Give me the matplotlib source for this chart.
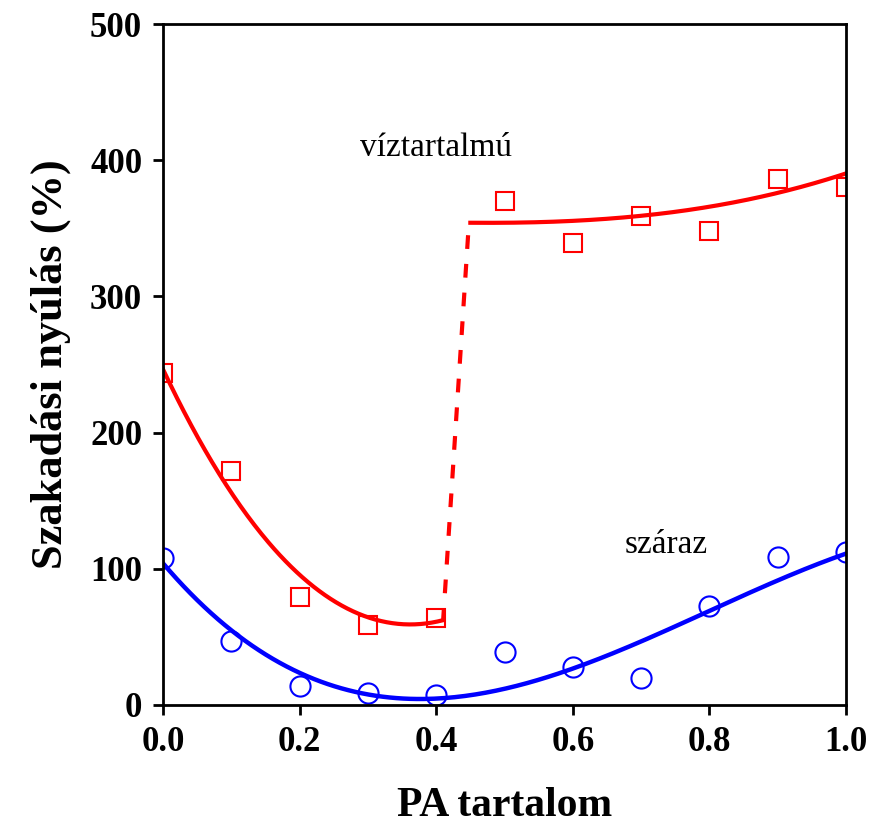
import numpy as np
import matplotlib
matplotlib.use("Agg")
from matplotlib import pyplot as plt

plt.rcParams["font.family"] = ["Liberation Serif", "DejaVu Serif"]

# measured points
pa_content = [0.0, 0.1, 0.2, 0.3, 0.4, 0.5, 0.6, 0.7, 0.8, 0.9, 1.0]
wet_elong = [244, 172, 79, 59, 64, 370, 339, 359, 348, 386, 380]
dry_elong = [108, 47, 14, 9, 7, 39, 28, 20, 73, 109, 112]

# trend lines (values along the fitted curves)
dry_fit_x = [0.0, 0.1, 0.2, 0.3, 0.4, 0.5, 0.6, 0.7, 0.8, 0.9, 1.0]
dry_fit_y = [107, 51, 22, 8, 6, 15, 27, 46, 67, 90, 113]
wet_fit1_x = [0.0, 0.1, 0.2, 0.3, 0.37, 0.41]
wet_fit1_y = [246, 158, 93, 65, 61, 61]
wet_fit2_x = [0.45, 0.5, 0.6, 0.7, 0.8, 0.9, 1.0]
wet_fit2_y = [354, 354, 356, 359, 365, 377, 390]
# jump between the two wet branches
jump_x = [0.41, 0.448]
jump_y = [61, 355]

x_ticks = [0.0, 0.2, 0.4, 0.6, 0.8, 1.0]
y_ticks = [0, 100, 200, 300, 400, 500]


def smooth(xs, ys, deg):
    coef = np.polyfit(xs, ys, deg)
    xx = np.linspace(min(xs), max(xs), 200)
    return xx, np.polyval(coef, xx)


fig = plt.figure(figsize=(8.79, 8.23), dpi=100)
ax = fig.add_axes([0.1854, 0.1434, 0.7771, 0.8274])

ax.plot(*smooth(dry_fit_x, dry_fit_y, 3), color="#0000ff", lw=3.2)
ax.plot(*smooth(wet_fit1_x, wet_fit1_y, 3), color="#ff0000", lw=3.0)
ax.plot(*smooth(wet_fit2_x, wet_fit2_y, 3), color="#ff0000", lw=3.0)
ax.plot(jump_x, jump_y, color="#ff0000", lw=3.0, dashes=(3.3, 3.6))

ax.plot(pa_content, wet_elong, ls="none", marker="s", ms=13, mfc="none",
        mec="#ff0000", mew=1.5)
ax.plot(pa_content, dry_elong, ls="none", marker="o", ms=14.5, mfc="none",
        mec="#0000ff", mew=1.5)

ax.text(0.40, 403, "víztartalmú", fontsize=24, ha="center", va="baseline")
ax.text(0.736, 111.6, "száraz", fontsize=24, ha="center", va="baseline")

ax.set_xlim(0, 1.0)
ax.set_ylim(0, 500)
ax.set_xticks(x_ticks)
ax.set_xticklabels([f"{t:.1f}" for t in x_ticks])
ax.set_yticks(y_ticks)
ax.set_yticklabels([str(t) for t in y_ticks])
ax.tick_params(direction="out", length=7, width=2, labelsize=25, pad=8)
for lbl in ax.get_xticklabels() + ax.get_yticklabels():
    lbl.set_fontweight("bold")
for sp in ax.spines.values():
    sp.set_linewidth(2)

ax.set_xlabel("PA tartalom", fontsize=30, fontweight="bold", labelpad=20)
ax.set_ylabel("Szakadási nyúlás (%)", fontsize=32, fontweight="bold", labelpad=14)

fig.savefig("out.png", dpi=100)
